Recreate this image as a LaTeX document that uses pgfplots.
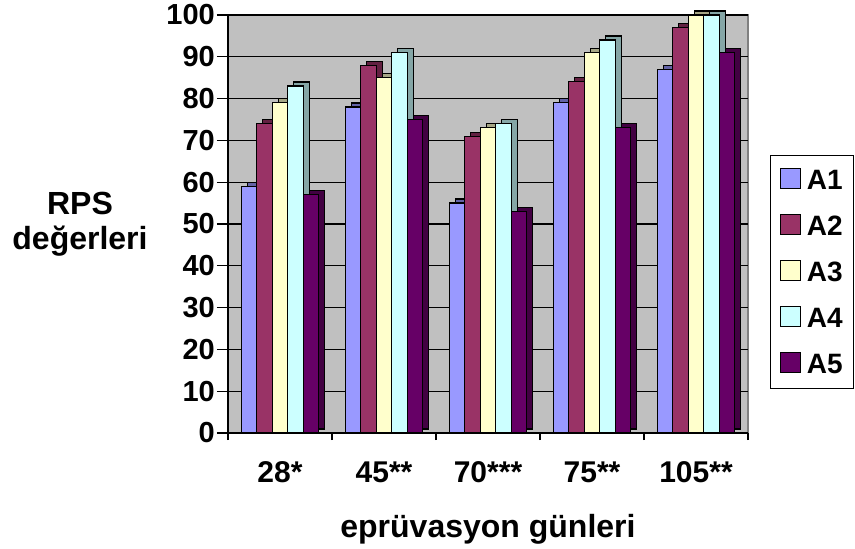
\documentclass[border=0pt]{standalone}
\usepackage{pgfplots}
\pgfplotsset{compat=1.18}
\usepackage{fontspec}
\setmainfont{Liberation Sans}
\usetikzlibrary{calc}

\definecolor{cA1}{HTML}{9999FF}
\definecolor{cA2}{HTML}{993366}
\definecolor{cA3}{HTML}{FFFFCC}
\definecolor{cA4}{HTML}{CCFFFF}
\definecolor{cA5}{HTML}{660066}
\definecolor{wall}{HTML}{C0C0C0}

% RPS values per test group; x = 0..4 stands for the five sampling days
\pgfplotstableread{
x  A1  A2  A3  A4  A5
0  59  74  79  83  57
1  78  88  85  91  75
2  55  71  73  74  53
3  79  84  91  94  73
4  87  97  100 100 91
}\rpsdata

\begin{document}
\begin{tikzpicture}
\begin{axis}[
  name=ax,
  scale only axis, width=520pt, height=418pt,
  xmin=-0.5, xmax=4.5, ymin=0, ymax=100,
  ybar, bar width=15.5pt, clip=false,
  axis background/.style={fill=wall, draw=gray, line width=1.2pt},
  axis x line*=bottom, axis y line*=left,
  axis line style={black, line width=1.5pt},
  ytick={0,10,...,100},
  ymajorgrids, major grid style={black, line width=1.3pt},
  tick align=outside,
  major tick length=11pt, minor tick length=7pt,
  tick style={black, line width=1.3pt},
  xtick={0,...,4},
  xticklabels={28*,45**,70***,75**,105**},
  major x tick style={draw=none},
  minor xtick={-0.5,0.5,...,4.5},
  /pgf/number format/assume math mode=true,
  yticklabel style={font=\bfseries\fontsize{29}{29}\selectfont, inner xsep=2pt},
  xticklabel style={font=\bfseries\fontsize{30}{30}\selectfont, anchor=base, yshift=-38pt},
  xlabel={eprüvasyon günleri},
  xlabel style={font=\bfseries\fontsize{32}{32}\selectfont, at={(rel axis cs:0.5,0)}, anchor=base, yshift=-104pt},
  ylabel={RPS\\değerleri},
  ylabel style={font=\bfseries\fontsize{32}{35}\selectfont, rotate=-90, align=center, at={(rel axis cs:0,0.5)}, anchor=center, xshift=-148pt},
  legend style={at={(1,1)}, anchor=north west, xshift=22pt, yshift=-140pt,
    draw=black, line width=1.2pt, fill=white,
    font=\bfseries\fontsize{28}{28}\selectfont,
    row sep=21pt, inner xsep=9pt, inner ysep=12pt,
    /tikz/every odd column/.append style={column sep=4pt}},
  legend image code/.code={\draw[#1, draw=black, line width=1.2pt] (0pt,-8pt) rectangle (20pt,12pt);},
  legend cell align=left,
]
% each series: a darker offset copy for depth, then the front face
\addplot[forget plot, fill=cA1!65!black, draw=black, line width=1.2pt, bar shift=-31pt, xshift=6pt, yshift=4pt] table[x=x,y=A1]{\rpsdata};
\addplot[fill=cA1, draw=black, line width=1.2pt, bar shift=-31pt] table[x=x,y=A1]{\rpsdata};
\addplot[forget plot, fill=cA2!65!black, draw=black, line width=1.2pt, bar shift=-15.5pt, xshift=6pt, yshift=4pt] table[x=x,y=A2]{\rpsdata};
\addplot[fill=cA2, draw=black, line width=1.2pt, bar shift=-15.5pt] table[x=x,y=A2]{\rpsdata};
\addplot[forget plot, fill=cA3!65!black, draw=black, line width=1.2pt, bar shift=0pt, xshift=6pt, yshift=4pt] table[x=x,y=A3]{\rpsdata};
\addplot[fill=cA3, draw=black, line width=1.2pt, bar shift=0pt] table[x=x,y=A3]{\rpsdata};
\addplot[forget plot, fill=cA4!65!black, draw=black, line width=1.2pt, bar shift=15.5pt, xshift=6pt, yshift=4pt] table[x=x,y=A4]{\rpsdata};
\addplot[fill=cA4, draw=black, line width=1.2pt, bar shift=15.5pt] table[x=x,y=A4]{\rpsdata};
\addplot[forget plot, fill=cA5!65!black, draw=black, line width=1.2pt, bar shift=31pt, xshift=6pt, yshift=4pt] table[x=x,y=A5]{\rpsdata};
\addplot[fill=cA5, draw=black, line width=1.2pt, bar shift=31pt] table[x=x,y=A5]{\rpsdata};
\legend{A1,A2,A3,A4,A5}
\end{axis}
\path[use as bounding box] ($(ax.south west)+(-228pt,-115pt)$) rectangle ($(ax.north east)+(107pt,15pt)$);
\end{tikzpicture}
\end{document}
